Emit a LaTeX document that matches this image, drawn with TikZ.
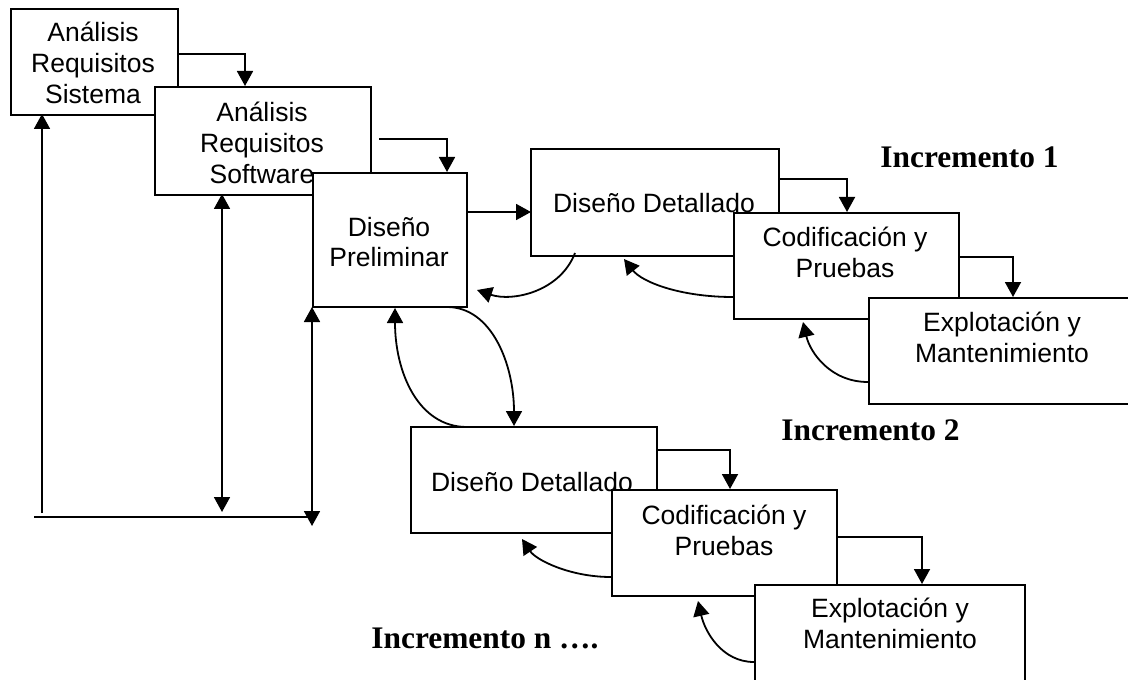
\documentclass[tikz,border=0pt]{standalone}
\usepackage{fontspec}
\setmainfont{Liberation Sans}
\newfontfamily\serifinc{Liberation Serif}
\usetikzlibrary{arrows.meta}

\tikzset{
  etapa/.style={draw=black, fill=white, line width=0.9pt, rectangle, inner sep=0pt, anchor=north west},
  texto/.style={font=\fontsize{13.25}{15.4}\selectfont, align=center, inner sep=0pt},
  incremento/.style={font=\serifinc\bfseries\fontsize{15.7}{18}\selectfont, anchor=west, inner sep=0pt},
  flecha/.style={line width=0.9pt, -{Triangle[length=7.5pt,width=8pt]}},
  dobleflecha/.style={line width=0.9pt, {Triangle[length=7.5pt,width=8pt]}-{Triangle[length=7.5pt,width=8pt]}},
  linea/.style={line width=0.9pt},
}

\begin{document}
\begin{tikzpicture}[x=0.5pt, y=-0.5pt]

  % Marco del esquema
  \useasboundingbox (0,0) rectangle (1128,679);
  \clip (0,0) rectangle (1128,679);

  %%%%%%%%%%%%%%%%%%%%%%%%%%%%%%%%% Etapas comunes %%%%%%%%%%%%%%%%%%%%%%%%%%%%%%%%%%%%
  \node[etapa, minimum width=83.5pt, minimum height=53pt] (sis) at (10,8) {};
  \node[texto] (sisT) at (93,63) {Análisis\\Requisitos\\Sistema};

  \node[etapa, minimum width=108pt, minimum height=54pt] (sw) at (154,86) {};
  \node[texto] (swT) at (262,143) {Análisis\\Requisitos\\Software};

  \node[etapa, minimum width=77pt, minimum height=67pt] (pre) at (312,172) {};
  \node[texto] (preT) at (389,242) {Diseño\\Preliminar};

  %%%%%%%%%%%%%%%%%%%%%%%%%%%%%%%%% Incremento 1 %%%%%%%%%%%%%%%%%%%%%%%%%%%%%%%%%%%%
  \node[etapa, minimum width=124pt, minimum height=53.5pt] (dd1) at (530,148) {};
  \node[texto] (dd1T) at (654,203) {Diseño Detallado};

  \node[etapa, minimum width=112.5pt, minimum height=53pt] (cod1) at (733,212) {};
  \node[texto] (cod1T) at (845,252) {Codificación y\\Pruebas};

  \node[etapa, minimum width=135pt, minimum height=53pt] (exp1) at (868,297) {};
  \node[texto] (exp1T) at (1002,337) {Explotación y\\Mantenimiento};

  \node[incremento] (inc1) at (880,157) {Incremento 1};

  %%%%%%%%%%%%%%%%%%%%%%%%%%%%%%%%% Incremento 2 %%%%%%%%%%%%%%%%%%%%%%%%%%%%%%%%%%%%
  \node[etapa, minimum width=123pt, minimum height=53pt] (dd2) at (410,426) {};
  \node[texto] (dd2T) at (532,482) {Diseño Detallado};

  \node[etapa, minimum width=112.5pt, minimum height=53pt] (cod2) at (611,489) {};
  \node[texto] (cod2T) at (724,530) {Codificación y\\Pruebas};

  \node[etapa, minimum width=135pt, minimum height=53pt] (exp2) at (754,584) {};
  \node[texto] (exp2T) at (890,623) {Explotación y\\Mantenimiento};

  \node[incremento] (inc2) at (781,430) {Incremento 2};
  \node[incremento] (incn) at (371,638) {Incremento n ….};

  %%%%%%%%%%%%%%%%%%%%%%%%%%%%%%%%% Puntos de apoyo %%%%%%%%%%%%%%%%%%%%%%%%%%%%%%%%%%%%
  % Salidas hacia la etapa siguiente
  \coordinate (s1) at (177,54);
  \coordinate (e1) at (245,86);
  \coordinate (s2) at (379,139);
  \coordinate (e2) at (447,172);
  \coordinate (s3) at (466,212);
  \coordinate (e3) at (531,212);
  \coordinate (s4) at (778,179);
  \coordinate (e4) at (847,212);
  \coordinate (s5) at (958,257);
  \coordinate (e5) at (1013,297);
  \coordinate (s6) at (656,450);
  \coordinate (e6) at (730,489);
  \coordinate (s7) at (836,537);
  \coordinate (e7) at (922,584);

  % Lineas de retorno a la izquierda
  \coordinate (r1) at (42,513);
  \coordinate (r2) at (42,114);
  \coordinate (r3) at (222,512);
  \coordinate (r4) at (222,194);
  \coordinate (r5) at (312,526);
  \coordinate (r6) at (312,307);
  \coordinate (h1) at (34,517);
  \coordinate (h2) at (312,517);

  % Curvas de realimentacion
  \coordinate (c1) at (447,307);
  \coordinate (c2) at (514,426);
  \coordinate (c3) at (467,427);
  \coordinate (c4) at (395,308);
  \coordinate (c5) at (575,253);
  \coordinate (c6) at (477,290);
  \coordinate (c7) at (733,297);
  \coordinate (c8) at (624,259);
  \coordinate (c9) at (868,382);
  \coordinate (c10) at (803,322);
  \coordinate (c11) at (611,577);
  \coordinate (c12) at (522,539);
  \coordinate (c13) at (754,662);
  \coordinate (c14) at (698,601);

  %%%%%%%%%%%%%%%%%%%%%%%%%%%%%%%%% Flechas %%%%%%%%%%%%%%%%%%%%%%%%%%%%%%%%%%%%
  \draw[flecha] (s1) -| (e1);
  \draw[flecha] (s2) -| (e2);
  \draw[flecha] (s3) -- (e3);
  \draw[flecha] (s4) -| (e4);
  \draw[flecha] (s5) -| (e5);
  \draw[flecha] (s6) -| (e6);
  \draw[flecha] (s7) -| (e7);

  \draw[flecha] (r1) -- (r2);
  \draw[dobleflecha] (r3) -- (r4);
  \draw[dobleflecha] (r5) -- (r6);
  \draw[linea] (h1) -- (h2);

  \draw[flecha] (c1) .. controls (492,307) and (514,365) .. (c2);
  \draw[flecha] (c3) .. controls (418,427) and (395,372) .. (c4);
  \draw[flecha] (c5) .. controls (560,292) and (512,302) .. (c6);
  \draw[flecha] (c7) .. controls (680,297) and (642,282) .. (c8);
  \draw[flecha] (c9) .. controls (830,382) and (810,352) .. (c10);
  \draw[flecha] (c11) .. controls (570,577) and (536,560) .. (c12);
  \draw[flecha] (c13) .. controls (722,662) and (705,632) .. (c14);

\end{tikzpicture}
\end{document}
